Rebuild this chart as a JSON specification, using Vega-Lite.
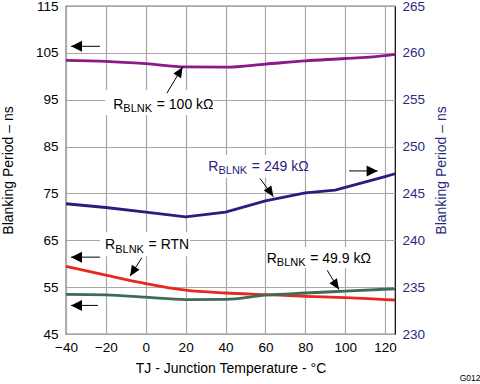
{
  "$schema": "https://vega.github.io/schema/vega-lite/v6.json",
  "width": 329,
  "height": 328,
  "autosize": {"type": "none"},
  "padding": {"left": 66, "top": 6, "right": 85, "bottom": 50},
  "title": {"text": "G012", "orient": "bottom", "anchor": "end", "frame": "bounds", "fontSize": 8.5, "fontWeight": "normal", "font": "Liberation Sans", "color": "#000000", "offset": -2, "dx": 32},
  "config": {
    "font": "Liberation Sans",
    "view": {"stroke": "#000000", "strokeWidth": 1.2},
    "axis": {
      "labelFont": "Liberation Sans",
      "labelFontSize": 13.5,
      "labelColor": "#000000",
      "labelFlush": false,
      "labelOverlap": false,
      "titleFont": "Liberation Sans",
      "titleFontSize": 14,
      "titleFontWeight": "normal",
      "titleColor": "#000000",
      "ticks": false,
      "tickSize": 0,
      "domain": false,
      "gridColor": "#a8a8a8",
      "gridWidth": 1.2,
      "gridOpacity": 1
    }
  },
  "datasets": {
    "leftCurves": [
      {"x": -40, "y": 103.4, "series": "100k"},
      {"x": -20, "y": 103.2, "series": "100k"},
      {"x": 0, "y": 102.7, "series": "100k"},
      {"x": 20, "y": 102.0, "series": "100k"},
      {"x": 40, "y": 101.95, "series": "100k"},
      {"x": 60, "y": 102.6, "series": "100k"},
      {"x": 80, "y": 103.3, "series": "100k"},
      {"x": 100, "y": 103.8, "series": "100k"},
      {"x": 120, "y": 104.4, "series": "100k"},
      {"x": 125, "y": 104.7, "series": "100k"},
      {"x": -40, "y": 59.45, "series": "RTN"},
      {"x": -20, "y": 57.55, "series": "RTN"},
      {"x": 0, "y": 55.75, "series": "RTN"},
      {"x": 20, "y": 54.35, "series": "RTN"},
      {"x": 40, "y": 53.75, "series": "RTN"},
      {"x": 60, "y": 53.4, "series": "RTN"},
      {"x": 80, "y": 53.05, "series": "RTN"},
      {"x": 100, "y": 52.75, "series": "RTN"},
      {"x": 120, "y": 52.35, "series": "RTN"},
      {"x": 125, "y": 52.25, "series": "RTN"},
      {"x": -40, "y": 53.45, "series": "49.9k"},
      {"x": -20, "y": 53.35, "series": "49.9k"},
      {"x": 0, "y": 52.85, "series": "49.9k"},
      {"x": 20, "y": 52.35, "series": "49.9k"},
      {"x": 40, "y": 52.4, "series": "49.9k"},
      {"x": 60, "y": 53.3, "series": "49.9k"},
      {"x": 80, "y": 53.75, "series": "49.9k"},
      {"x": 100, "y": 54.15, "series": "49.9k"},
      {"x": 120, "y": 54.55, "series": "49.9k"},
      {"x": 125, "y": 54.65, "series": "49.9k"}
    ],
    "rightCurve": [
      {"x": -40, "y": 243.9, "series": "249k"},
      {"x": -20, "y": 243.5, "series": "249k"},
      {"x": 0, "y": 243.0, "series": "249k"},
      {"x": 20, "y": 242.5, "series": "249k"},
      {"x": 40, "y": 243.0, "series": "249k"},
      {"x": 60, "y": 244.2, "series": "249k"},
      {"x": 80, "y": 245.05, "series": "249k"},
      {"x": 95, "y": 245.35, "series": "249k"},
      {"x": 120, "y": 246.8, "series": "249k"},
      {"x": 125, "y": 247.1, "series": "249k"}
    ],
    "boxes": [
      {"x": -20.4, "x2": 33.7, "y": 97.05, "y2": 91.7},
      {"x": -22.9, "x2": 22.2, "y": 66.7, "y2": 61.6},
      {"x": 28.7, "x2": 78, "y": 83.2, "y2": 78.4},
      {"x": 61.3, "x2": 112.5, "y": 63.5, "y2": 59.1}
    ],
    "arrows": [
      {"x": -37.5, "y": 106.4, "x2": -23, "y2": 106.4, "dir": "left"},
      {"x": -37.5, "y": 61.4, "x2": -23, "y2": 61.4, "dir": "left"},
      {"x": -37.5, "y": 51.1, "x2": -24, "y2": 51.1, "dir": "left"},
      {"x": 116.3, "y": 79.8, "x2": 102, "y2": 79.8, "dir": "right"},
      {"x": 18.5, "y": 102.0, "x2": 10.6, "y2": 96.4, "dir": "upright"},
      {"x": -7.9, "y": 57.35, "x2": -2.0, "y2": 61.25, "dir": "downleft"},
      {"x": 64.0, "y": 74.3, "x2": 57.3, "y2": 78.2, "dir": "downright"},
      {"x": 96.9, "y": 54.5, "x2": 91.0, "y2": 58.6, "dir": "downright"}
    ],
    "labels": [
      {"x": -16.3, "y": 93.1, "rest": "= 100 kΩ", "side": "left"},
      {"x": -20.4, "y": 63.1, "rest": "= RTN", "side": "left"},
      {"x": 31.4, "y": 79.8, "rest": "= 249 kΩ", "side": "right"},
      {"x": 60.65, "y": 60.2, "rest": "= 49.9 kΩ", "side": "left"}
    ]
  },
  "layer": [
    {
      "encoding": {
        "x": {
          "field": "x", "type": "quantitative",
          "scale": {"domain": [-40, 125], "nice": false, "zero": false},
          "axis": {"values": [-40, -20, 0, 20, 40, 60, 80, 100, 120], "labelPadding": 6, "titlePadding": 8, "title": "TJ - Junction Temperature -  °C", "grid": true}
        },
        "y": {
          "field": "y", "type": "quantitative",
          "scale": {"domain": [45, 115], "nice": false, "zero": false},
          "axis": {"values": [45, 55, 65, 75, 85, 95, 105, 115], "labelPadding": 8, "titlePadding": 20, "title": "Blanking Period – ns", "grid": true}
        }
      },
      "layer": [
        {
          "data": {"name": "boxes"},
          "mark": {"type": "rect", "fill": "#ffffff"},
          "encoding": {"x2": {"field": "x2"}, "y2": {"field": "y2"}}
        },
        {
          "data": {"name": "leftCurves"},
          "mark": {"type": "line", "strokeWidth": 2.8, "interpolate": "monotone"},
          "encoding": {
            "stroke": {"field": "series", "type": "nominal", "scale": {"domain": ["100k", "RTN", "49.9k", "249k"], "range": ["#8B1A89", "#E8281E", "#3D6B58", "#2A1D80"]}, "legend": null},
            "detail": {"field": "series"}
          }
        },
        {
          "data": {"name": "arrows"},
          "mark": {"type": "rule", "stroke": "#000000", "strokeWidth": 1},
          "encoding": {"x2": {"field": "x2"}, "y2": {"field": "y2"}}
        },
        {
          "data": {"name": "arrows"},
          "mark": {"type": "point", "filled": true, "fill": "#000000", "strokeWidth": 0, "size": 100, "opacity": 1},
          "encoding": {
            "shape": {
              "field": "dir", "type": "nominal", "legend": null,
              "scale": {
                "domain": ["left", "right", "upright", "downleft", "downright"],
                "range": ["M0,0L2.2,-1.1L2.2,1.1Z", "M0,0L-2.2,-1.1L-2.2,1.1Z", "M0,0L-0.314,2.26L-1.854,1.332Z", "M0,0L1.891,-1.285L0.373,-2.255Z", "M0,0L-1.907,-1.259L-0.403,-2.249Z"]
              }
            }
          }
        },
        {
          "data": {"name": "labels"},
          "mark": {"type": "text", "align": "left", "baseline": "alphabetic", "fontSize": 14, "font": "Liberation Sans"},
          "encoding": {
            "text": {"value": "R"},
            "fill": {"field": "side", "type": "nominal", "scale": {"domain": ["left", "right"], "range": ["#000000", "#2A1D80"]}, "legend": null}
          }
        },
        {
          "data": {"name": "labels"},
          "mark": {"type": "text", "align": "left", "baseline": "alphabetic", "fontSize": 11, "dx": 10.1, "dy": 3.5, "font": "Liberation Sans"},
          "encoding": {
            "text": {"value": "BLNK"},
            "fill": {"field": "side", "type": "nominal", "legend": null}
          }
        },
        {
          "data": {"name": "labels"},
          "mark": {"type": "text", "align": "left", "baseline": "alphabetic", "fontSize": 14, "dx": 43.5, "font": "Liberation Sans"},
          "encoding": {
            "text": {"field": "rest"},
            "fill": {"field": "side", "type": "nominal", "legend": null}
          }
        }
      ]
    },
    {
      "data": {"name": "rightCurve"},
      "mark": {"type": "line", "strokeWidth": 2.8},
      "encoding": {
        "x": {
          "field": "x", "type": "quantitative",
          "scale": {"domain": [-40, 125], "nice": false, "zero": false},
          "axis": {"values": [-40, -20, 0, 20, 40, 60, 80, 100, 120], "labelPadding": 6, "titlePadding": 8, "title": "TJ - Junction Temperature -  °C", "grid": true}
        },
        "y": {
          "field": "y", "type": "quantitative",
          "scale": {"domain": [230, 265], "nice": false, "zero": false},
          "axis": {"orient": "right", "values": [230, 235, 240, 245, 250, 255, 260, 265], "grid": false, "labelPadding": 7, "labelColor": "#2A2A80", "title": "Blanking Period – ns", "titleColor": "#2A2A80", "titleAngle": -90, "titlePadding": 24}
        },
        "stroke": {"field": "series", "type": "nominal", "legend": null}
      }
    }
  ],
  "resolve": {"scale": {"y": "independent"}, "axis": {"y": "independent"}}
}
